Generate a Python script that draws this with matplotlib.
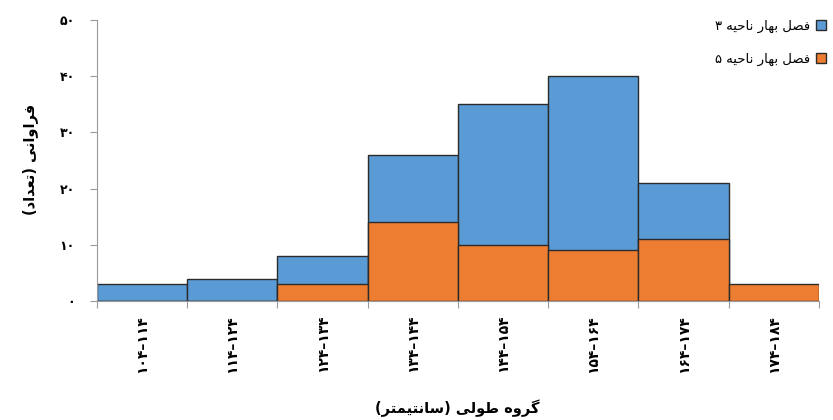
import matplotlib
matplotlib.use('Agg')
import matplotlib.pyplot as plt

# data
bins = ['104-114', '114-124', '124-134', '134-144', '144-154', '154-164', '164-174', '174-184']
region3 = [3, 4, 8, 26, 35, 40, 21, 0]
region5 = [0, 0, 3, 14, 10, 9, 11, 3]
yticks = [0, 10, 20, 30, 40, 50]

label3 = 'فصل بهار ناحیه ۳'
label5 = 'فصل بهار ناحیه ۵'
ylabel = 'فراوانی (تعداد)'
xlabel = 'گروه طولی (سانتیمتر)'

plt.rcParams['font.family'] = ['DejaVu Sans']

# presentation forms: isolated, final, initial, medial
FORMS = {
    'ا': (0xFE8D, 0xFE8E), 'ب': (0xFE8F, 0xFE90, 0xFE91, 0xFE92),
    'ت': (0xFE95, 0xFE96, 0xFE97, 0xFE98), 'ح': (0xFEA1, 0xFEA2, 0xFEA3, 0xFEA4),
    'د': (0xFEA9, 0xFEAA), 'ر': (0xFEAD, 0xFEAE),
    'س': (0xFEB1, 0xFEB2, 0xFEB3, 0xFEB4), 'ص': (0xFEB9, 0xFEBA, 0xFEBB, 0xFEBC),
    'ط': (0xFEC1, 0xFEC2, 0xFEC3, 0xFEC4), 'ع': (0xFEC9, 0xFECA, 0xFECB, 0xFECC),
    'ف': (0xFED1, 0xFED2, 0xFED3, 0xFED4), 'ل': (0xFEDD, 0xFEDE, 0xFEDF, 0xFEE0),
    'م': (0xFEE1, 0xFEE2, 0xFEE3, 0xFEE4), 'ن': (0xFEE5, 0xFEE6, 0xFEE7, 0xFEE8),
    'ه': (0xFEE9, 0xFEEA, 0xFEEB, 0xFEEC), 'و': (0xFEED, 0xFEEE),
    'ی': (0xFBFC, 0xFBFD, 0xFBFE, 0xFBFF), 'گ': (0xFB92, 0xFB93, 0xFB94, 0xFB95),
}
RIGHT_ONLY = set('ادذرزژو')


def shape(text):
    # join letters and flip to visual order since matplotlib has no bidi
    out = []
    for i, ch in enumerate(text):
        if ch not in FORMS:
            out.append(ch)
            continue
        prev = text[i - 1] if i > 0 else ''
        nxt = text[i + 1] if i < len(text) - 1 else ''
        jp = prev in FORMS and prev not in RIGHT_ONLY
        jn = ch not in RIGHT_ONLY and nxt in FORMS
        f = FORMS[ch]
        if jp and jn:
            c = f[3]
        elif jp:
            c = f[1]
        elif jn:
            c = f[2]
        else:
            c = f[0]
        out.append(chr(c))
    return ''.join(out)[::-1].translate(str.maketrans('()', ')('))


def fa_digits(s):
    return str(s).translate(str.maketrans('0123456789', '۰۱۲۳۴۵۶۷۸۹'))


blue = '#5B9BD5'
orange = '#ED7D31'
edge = '#2b2b2b'

fig = plt.figure(figsize=(8.33, 4.2), dpi=100)
ax = fig.add_axes([0.1164, 0.2833, 0.8668, 0.6691])

x = list(range(len(bins)))
ax.bar(x, region3, width=1, align='edge', color=blue, edgecolor=edge, linewidth=1,
       label=shape(label3))
ax.bar(x, region5, width=1, align='edge', color=orange, edgecolor=edge, linewidth=1,
       label=shape(label5))

ax.set_xlim(0, len(bins))
ax.set_ylim(0, 50)

ax.set_yticks(yticks)
ax.set_yticklabels([fa_digits(v) for v in yticks], fontsize=9, fontweight='bold')
ax.tick_params(axis='y', direction='out', length=5, color='#999999', pad=11)

ax.set_xticks(range(len(bins) + 1))
ax.set_xticklabels([])
ax.tick_params(axis='x', direction='out', length=5, color='#999999')
ax.set_xticks([i + 0.5 for i in x], [fa_digits(b.replace('-', '–')) for b in bins], minor=True)
ax.tick_params(axis='x', which='minor', length=0, pad=10, labelsize=10, labelrotation=90)
for t in ax.get_xticklabels(minor=True):
    t.set_fontweight('bold')

for s in ['top', 'right']:
    ax.spines[s].set_visible(False)
for s in ['left', 'bottom']:
    ax.spines[s].set_color('#999999')

fig.text(0.036, 0.62, shape(ylabel), rotation=90, ha='center', va='center',
         fontsize=10.5, fontweight='bold')
fig.text(0.549, 0.027, shape(xlabel), ha='center', va='center',
         fontsize=10.5, fontweight='bold')

ax.legend(loc='upper right', bbox_to_anchor=(0.998, 0.965), bbox_transform=fig.transFigure,
          markerfirst=False, frameon=False, handlelength=0.8, handleheight=0.8,
          labelspacing=1.5, fontsize=9.5, handletextpad=0.4, borderaxespad=0)

fig.savefig('out.png', dpi=100)
